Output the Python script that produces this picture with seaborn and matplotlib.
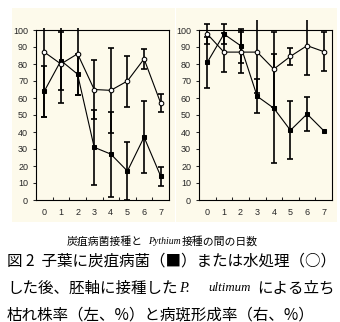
import matplotlib
matplotlib.use("Agg")
import matplotlib.pyplot as plt
import seaborn as sns
import pandas as pd
from matplotlib.patches import Rectangle
from matplotlib.transforms import Bbox, TransformedBbox

# Days between anthracnose inoculation and Pythium inoculation
days = [0, 1, 2, 3, 4, 5, 6, 7]
day_labels = ["0", "1", "2", "3", "4", "5", "6", "7"]
y_ticks = [0, 10, 20, 30, 40, 50, 60, 70, 80, 90, 100]

# Damping-off rate (%) -- left panel
wilt_anth = [64, 82, 74, 31, 27, 17, 37, 14]
wilt_anth_err = [15, 17, 12, 22, 25, 17, 21, 5.5]
wilt_water = [87, 80, 86, 65, 64.5, 70, 83, 57]
wilt_water_err = [38, 23, 24, 17.5, 25, 15, 6, 5.5]

# Lesion formation rate (%) -- right panel
lesion_anth = [81, 97.6, 90.8, 61, 54, 41, 50.6, 40.8]
lesion_anth_err = [15, 6, 10, 10, 32, 17, 10, 0]
lesion_water = [97.6, 87, 87, 87, 77, 84.5, 90.8, 87.3]
lesion_water_err = [6, 11.5, 12, 24, 22, 5.2, 17.3, 11.3]

W, H = 340, 322
CREAM = "#FDFAEB"

sns.set_style("ticks")
plt.rcParams["font.family"] = ["Liberation Sans", "Noto Sans CJK JP", "DejaVu Sans"]

fig = plt.figure(figsize=(W / 100, H / 100), dpi=100)
fig.patch.set_facecolor("white")


def px_rect(x0, y0, x1, y1):
    return Rectangle((x0 / W, 1 - y1 / H), (x1 - x0) / W, (y1 - y0) / H,
                     transform=fig.transFigure, facecolor=CREAM,
                     edgecolor="none", zorder=0)


fig.add_artist(px_rect(12, 8, 175, 222))
fig.add_artist(px_rect(176, 8, 337, 222))


def panel(left_px, anth, anth_err, water, water_err, clip_top):
    ax = fig.add_axes([left_px / W, (H - 200) / H, 133 / W, 170 / H])
    ax.set_facecolor("none")
    clip = TransformedBbox(Bbox([[-0.05, -0.03], [1.05, clip_top]]), ax.transAxes)

    for vals, errs in ((anth, anth_err), (water, water_err)):
        xs = [d for d, e in zip(days, errs) if e > 0]
        ys = [v for v, e in zip(vals, errs) if e > 0]
        es = [e for e in errs if e > 0]
        eb = ax.errorbar(xs, ys, yerr=es, fmt="none", ecolor="black",
                         elinewidth=1.2, capsize=2.3, capthick=1.2, zorder=2)
        for art in list(eb.lines[1]) + list(eb.lines[2]):
            art.set_clip_box(clip)

    df_a = pd.DataFrame({"day": days, "rate": anth})
    df_w = pd.DataFrame({"day": days, "rate": water})
    sns.lineplot(data=df_a, x="day", y="rate", ax=ax, color="black", lw=0.8,
                 marker="s", markersize=3.0, markerfacecolor="black",
                 markeredgecolor="black", zorder=4)
    sns.lineplot(data=df_w, x="day", y="rate", ax=ax, color="black", lw=0.8,
                 marker="o", markersize=3.3, markerfacecolor="white",
                 markeredgecolor="black", markeredgewidth=0.75, zorder=4)

    ax.set_xlim(-0.5, 7.5)
    ax.set_ylim(0, 100)
    ax.set_xticks(days)
    ax.set_xticklabels(day_labels)
    ax.set_xticks([d + 0.5 for d in days[:-1]], minor=True)
    ax.set_yticks(y_ticks)
    ax.set_yticklabels([str(t) for t in y_ticks])
    ax.tick_params(axis="x", which="major", length=0, pad=5.5, labelsize=6.5)
    ax.tick_params(axis="x", which="minor", direction="in", length=2.3, width=0.75)
    ax.tick_params(axis="y", which="major", direction="out", length=2.2,
                   width=0.75, pad=3.5, labelsize=6.5)
    ax.set_xlabel("")
    ax.set_ylabel("")
    for s in ax.spines.values():
        s.set_visible(True)
        s.set_linewidth(0.8)
        s.set_color("black")
    return ax


panel(36, wilt_anth, wilt_anth_err, wilt_water, wilt_water_err, 1.012)
panel(199, lesion_anth, lesion_anth_err, lesion_water, lesion_water_err, 1.059)

JP = ["Noto Sans CJK JP", "DejaVu Sans"]
SERIF_IT = dict(family=["Liberation Serif", "DejaVu Serif"], style="italic")


def put(x_px, y_px, s, size, **kw):
    kw.setdefault("family", JP)
    fig.text(x_px / W, 1 - y_px / H, s, fontsize=size, ha="left", va="center",
             color="black", **kw)


# Axis caption shared by both panels
put(67, 241, "炭疽病菌接種と", 7.8)
put(148, 241, "Pythium", 7.0, **SERIF_IT)
put(182, 241, "接種の間の日数", 7.8)

# Figure caption
put(7, 261, "図 2  子葉に炭疽病菌（■）または水処理（○）", 11.2)
put(7, 288, "した後、胚軸に接種した", 11.2)
put(179, 288, "P.", 10.5, **SERIF_IT)
put(208, 288, "ultimum", 9.3, **SERIF_IT)
put(257, 288, "による立ち", 11.2)
put(7, 315, "枯れ株率（左、%）と病斑形成率（右、%）", 11.2)

fig.savefig("out.png", dpi=100, facecolor="white")
